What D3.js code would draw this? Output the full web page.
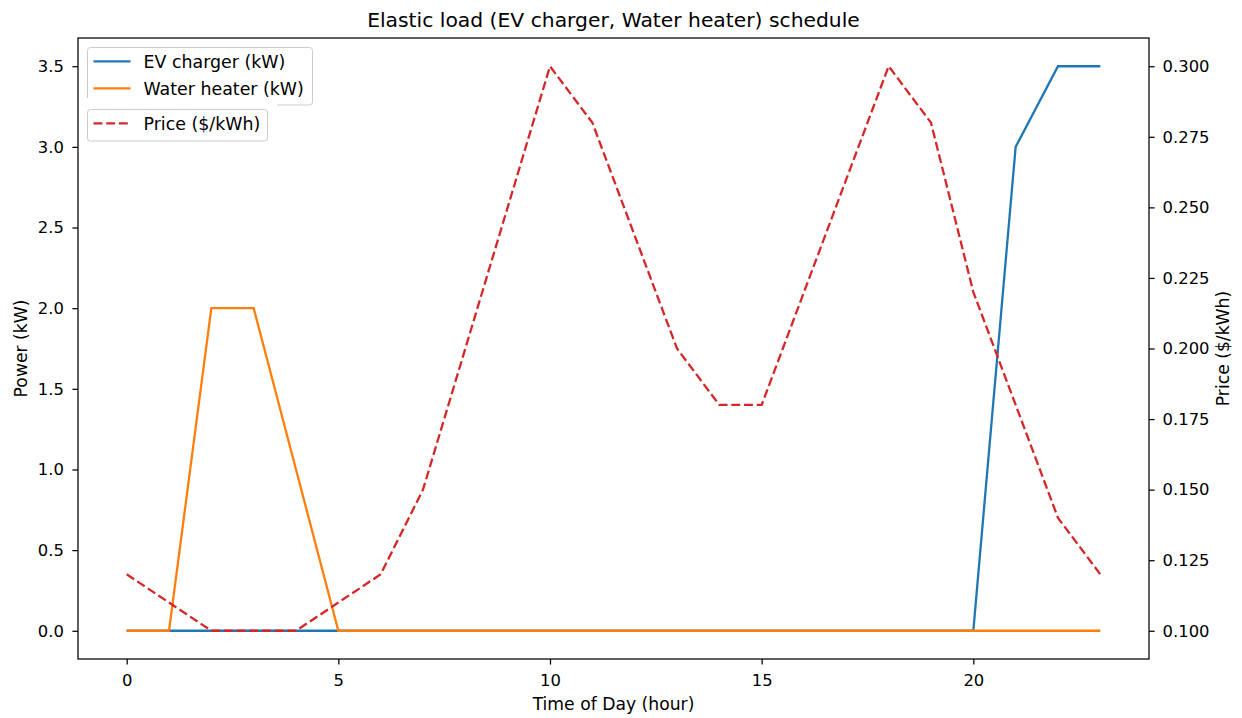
<!DOCTYPE html>
<html>
<head>
<meta charset="utf-8">
<script src="https://cdn.jsdelivr.net/npm/d3@7"></script>
<style>
body { margin: 0; background: #fff; }
text { font-family: "DejaVu Sans", sans-serif; fill: #000; }
</style>
</head>
<body>
<svg id="chart" width="1242" height="718"></svg>
<script>
// hourly schedule
var hours = d3.range(0, 24);
var evCharger = [0,0,0,0,0,0,0,0,0,0,0,0,0,0,0,0,0,0,0,0,0,3.0,3.5,3.5];
var waterHeater = [0,0,2,2,1,0,0,0,0,0,0,0,0,0,0,0,0,0,0,0,0,0,0,0];
var price = [0.12,0.11,0.10,0.10,0.10,0.11,0.12,0.15,0.20,0.25,0.30,0.28,0.24,0.20,0.18,0.18,0.22,0.26,0.30,0.28,0.22,0.18,0.14,0.12];

var xTicks = [0, 5, 10, 15, 20];
var powerTicks = [0, 0.5, 1.0, 1.5, 2.0, 2.5, 3.0, 3.5];
var priceTicks = [0.100, 0.125, 0.150, 0.175, 0.200, 0.225, 0.250, 0.275, 0.300];

var svg = d3.select("#chart");
// plot box (window.top is read-only, so use other names)
var pLeft = 78, pRight = 1149, pTop = 38, pBottom = 659;
var tickFont = "16.4px", labelFont = "17.2px";
var lw = 2.3, dash = "8.9,3.8";

var x = d3.scaleLinear().domain([-1.15, 24.15]).range([pLeft, pRight]);
var y = d3.scaleLinear().domain([-0.175, 3.675]).range([pBottom, pTop]);
var y2 = d3.scaleLinear().domain([0.09, 0.31]).range([pBottom, pTop]);

// axes
var xAxis = svg.append("g").attr("transform", "translate(0," + pBottom + ")")
    .call(d3.axisBottom(x).tickValues(xTicks).tickFormat(d3.format("d")).tickSizeOuter(0).tickSize(5.6).tickPadding(9.5));
var yAxis = svg.append("g").attr("transform", "translate(" + pLeft + ",0)")
    .call(d3.axisLeft(y).tickValues(powerTicks).tickFormat(d3.format(".1f")).tickSizeOuter(0).tickSize(5.6).tickPadding(8.5));
var y2Axis = svg.append("g").attr("transform", "translate(" + pRight + ",0)")
    .call(d3.axisRight(y2).tickValues(priceTicks).tickFormat(d3.format(".3f")).tickSizeOuter(0).tickSize(5.6).tickPadding(8));

[xAxis, yAxis, y2Axis].forEach(function(a){
    a.select(".domain").remove();
    a.selectAll("line").attr("stroke", "#000").attr("stroke-width", 1.25);
    a.selectAll("text").style("font-size", tickFont).style("font-family", "DejaVu Sans, sans-serif").attr("fill", "#000");
});

// lines
var line = d3.line().x(function(d, i){ return x(hours[i]); });

svg.append("path").datum(evCharger)
    .attr("d", line.y(function(d){ return y(d); }))
    .attr("fill", "none").attr("stroke", "#1f77b4").attr("stroke-width", lw);
svg.append("path").datum(waterHeater)
    .attr("d", line.y(function(d){ return y(d); }))
    .attr("fill", "none").attr("stroke", "#ff7f0e").attr("stroke-width", lw);
svg.append("path").datum(price)
    .attr("d", line.y(function(d){ return y2(d); }))
    .attr("fill", "none").attr("stroke", "#d62728").attr("stroke-width", lw)
    .attr("stroke-dasharray", dash);

// frame
svg.append("rect").attr("x", pLeft).attr("y", pTop).attr("width", pRight - pLeft).attr("height", pBottom - pTop)
    .attr("fill", "none").attr("stroke", "#000").attr("stroke-width", 1.25);

// titles
svg.append("text").attr("x", (pLeft + pRight) / 2).attr("y", 27).attr("text-anchor", "middle")
    .style("font-size", "20.3px").text("Elastic load (EV charger, Water heater) schedule");
svg.append("text").attr("x", (pLeft + pRight) / 2).attr("y", 710).attr("text-anchor", "middle")
    .style("font-size", labelFont).text("Time of Day (hour)");
svg.append("text").attr("transform", "translate(27," + (pTop + pBottom) / 2 + ") rotate(-90)")
    .attr("text-anchor", "middle").style("font-size", labelFont).text("Power (kW)");
svg.append("text").attr("transform", "translate(1229," + (pTop + pBottom) / 2 + ") rotate(-90)")
    .attr("text-anchor", "middle").style("font-size", labelFont).text("Price ($/kWh)");

// legends
function legend(items, x0, y0, w, h) {
    var g = svg.append("g");
    g.append("rect").attr("x", x0).attr("y", y0).attr("width", w).attr("height", h)
        .attr("rx", 3).attr("fill", "#fff").attr("fill-opacity", 0.8)
        .attr("stroke", "#cccccc").attr("stroke-width", 1);
    items.forEach(function(it, i){
        var cy = y0 + 13.8 + i * 27;
        g.append("line").attr("x1", x0 + 6).attr("x2", x0 + 43).attr("y1", cy).attr("y2", cy)
            .attr("stroke", it.color).attr("stroke-width", lw)
            .attr("stroke-dasharray", it.dash ? dash : null);
        g.append("text").attr("x", x0 + 56).attr("y", cy + 6.2).style("font-size", "17.4px").text(it.label);
    });
}
legend([{label: "EV charger (kW)", color: "#1f77b4"}, {label: "Water heater (kW)", color: "#ff7f0e"}], 87.5, 47.5, 225, 57.5);
svg.append("rect").attr("x", 86).attr("y", 98).attr("width", 191).attr("height", 10.5).attr("fill", "#fff");
legend([{label: "Price ($/kWh)", color: "#d62728", dash: true}], 87.5, 109.5, 180, 31.5);
</script>
</body>
</html>
